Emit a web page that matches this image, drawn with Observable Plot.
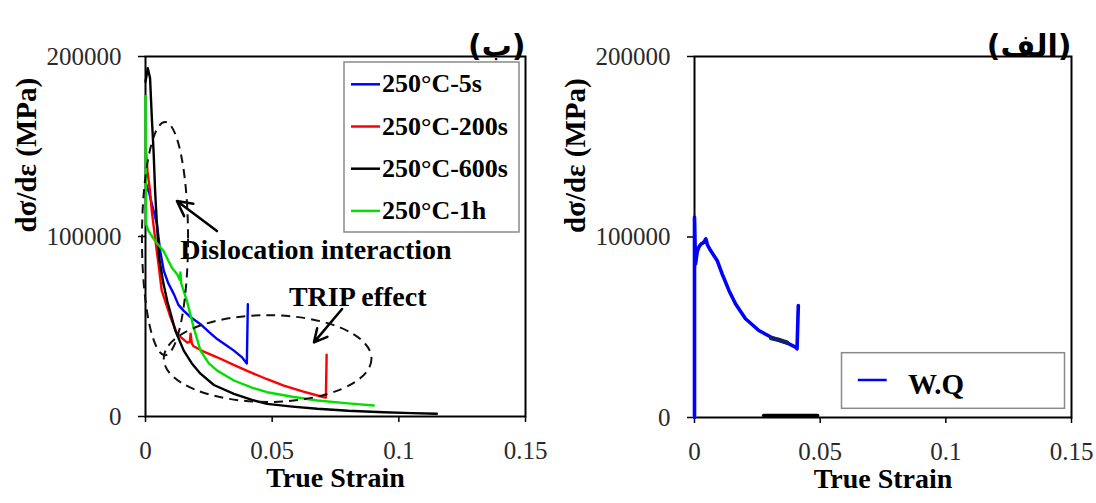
<!DOCTYPE html>
<html><head><meta charset="utf-8">
<script src="https://cdn.jsdelivr.net/npm/d3@7"></script>
<script src="https://cdn.jsdelivr.net/npm/@observablehq/plot@0.6"></script>
<style>
html,body{margin:0;padding:0;background:#fff;}
#wrap{position:relative;width:1096px;height:503px;overflow:hidden;}
#left,#right{position:absolute;top:0;}
#left{left:0;} #right{left:548px;}
</style></head><body>
<div id="wrap"><div id="left"></div><div id="right"></div></div>
<script>
// ---- tick labels / categories ----
const xTicks = [0, 0.05, 0.1, 0.15];
const yTicks = [0, 100000, 200000];
const xTitle = "True Strain";
const yTitle = "dσ/dε (MPa)";
const panelLeftLabel = "(ب)";
const panelRightLabel = "(الف)";
const seriesNames = ["250°C-5s", "250°C-200s", "250°C-600s", "250°C-1h"];
const seriesColors = ["#0000ff", "#ff0000", "#000000", "#00e000"];

// ---- series values (true strain, dσ/dε in MPa) ----
const strain5s = [0.0003, 0.0015, 0.0025, 0.0045, 0.0058, 0.0072, 0.0090, 0.0112, 0.0130, 0.0151, 0.0180, 0.0217, 0.0250, 0.0283, 0.0320, 0.0349, 0.0380, 0.0400, 0.0404];
const rate5s   = [129000, 124000, 118000, 107000, 92000, 81000, 74000, 68000, 62000, 58700, 55000, 51300, 47000, 43000, 39500, 36600, 33000, 29500, 62400];

const strain200s = [0.0002, 0.0008, 0.0018, 0.0025, 0.0038, 0.0051, 0.0064, 0.0078, 0.0099, 0.0125, 0.0165, 0.0175, 0.0178, 0.0183, 0.0190, 0.0230, 0.0283, 0.0350, 0.0415, 0.0480, 0.0546, 0.0620, 0.0704, 0.0712, 0.0715];
const rate200s   = [147000, 136000, 125000, 114000, 99000, 85000, 70000, 64000, 55000, 45800, 41000, 41500, 46000, 40500, 39000, 36000, 32900, 28500, 24500, 20700, 17200, 14000, 10700, 10500, 34300];

const strain600s = [0, 0.0009, 0.0018, 0.0025, 0.0032, 0.0038, 0.0045, 0.0054, 0.0071, 0.0086, 0.0118, 0.0151, 0.0183, 0.0217, 0.0270, 0.0349, 0.0420, 0.0480, 0.0580, 0.0678, 0.0800, 0.0940, 0.1050, 0.1150];
const rate600s   = [186000, 193500, 188000, 166000, 147000, 125000, 107000, 88000, 73700, 64000, 47600, 36600, 29500, 23800, 17500, 12600, 9200, 7000, 5500, 4300, 3200, 2400, 1900, 1500];

const strain1h = [0, 0.0001, 0.0002, 0.0012, 0.0038, 0.0071, 0.0104, 0.0125, 0.0135, 0.0138, 0.0141, 0.0164, 0.0190, 0.0217, 0.0250, 0.0283, 0.0349, 0.0420, 0.0480, 0.0580, 0.0678, 0.0800, 0.0901];
const rate1h   = [178000, 140000, 107000, 103000, 97500, 92000, 82700, 79000, 76000, 80000, 74000, 64000, 49500, 36600, 29500, 25500, 20000, 16000, 13500, 11000, 8900, 7300, 6100];

const wqName = "W.Q";
const strainWQ = [0, 0, 0.0004, 0.0011, 0.0017, 0.0025, 0.0037, 0.0045, 0.0052, 0.0064, 0.0090, 0.0110, 0.0137, 0.0163, 0.0203, 0.0256, 0.0309, 0.0362, 0.0402, 0.0408, 0.0413];
const rateWQ   = [0, 111000, 85000, 92000, 94300, 96000, 97000, 99000, 95500, 92500, 87000, 79600, 70400, 63000, 54700, 48200, 44200, 41700, 39000, 38000, 62000];
const strainWQdark = [0.0305, 0.0335, 0.0368];
const rateWQdark   = [44000, 43000, 41500];
const strainBase = [0.0275, 0.0490];
const rateBase   = [0, 0];

// ---- annotations (data units) ----
const noteTexts = ["Dislocation interaction", "TRIP effect"];
const noteX = [0.0137, 0.0566];
const noteY = [92400, 66500];
const arrowFromX = [0.0282, 0.0776];
const arrowFromY = [103000, 59700];
const arrowToX = [0.0124, 0.0665];
const arrowToY = [119700, 41200];
const ellipseCx = [0.0079, 0.0484];
const ellipseCy = [98600, 31900];
const ellipseRx = [0.0091, 0.041];
const ellipseRy = [64800, 24100];

// ---- tables ----
const strains = [strain5s, strain200s, strain600s, strain1h];
const rates = [rate5s, rate200s, rate600s, rate1h];
const tableLeft = seriesNames.flatMap((name, i) => strains[i].map((x, j) => ({name, x, y: rates[i][j]})));
const tableWQ = strainWQ.map((x, j) => ({x, y: rateWQ[j]}));
const tableWQdark = strainWQdark.map((x, j) => ({x, y: rateWQdark[j]}));
const tableBase = strainBase.map((x, j) => ({x, y: rateBase[j]}));
const notes = noteTexts.map((t, i) => ({t, x: noteX[i], y: noteY[i]}));
const arrows = arrowFromX.map((x1, i) => ({x1, y1: arrowFromY[i], x2: arrowToX[i], y2: arrowToY[i]}));

const serif = "'Liberation Serif','Times New Roman',serif";

function axesMarks(panelLabel) {
  return [
    Plot.frame({stroke: "black", strokeWidth: 2}),
    Plot.axisX({ticks: xTicks, tickFormat: d => String(d), tickSize: 6, tickPadding: 19, fontSize: 25, label: null, stroke: "black", fill: "#2a2a2a", strokeWidth: 1.5}),
    Plot.axisY({ticks: yTicks, tickFormat: d => String(d), tickSize: 7, tickPadding: 17, fontSize: 25, label: null, stroke: "black", fill: "#2a2a2a", strokeWidth: 1.5}),
    Plot.text([xTitle], {text: d => d, frameAnchor: "bottom", dy: 70, fontSize: 28, fontWeight: "bold"}),
    Plot.text([yTitle], {text: d => d, frameAnchor: "left", rotate: -90, dx: -119, dy: -4, fontSize: 29, fontWeight: "bold"}),
    Plot.text([panelLabel], {text: d => d, frameAnchor: "top-right", textAnchor: "end", dy: -22, fontSize: 30, fontWeight: "bold"})
  ];
}

// fonts on every text element (Arabic panel label uses DejaVu Sans)
function setFonts(svg) {
  d3.select(svg).selectAll("text").each(function () {
    const arabic = /[\u0600-\u06FF]/.test(this.textContent);
    this.style.fontFamily = arabic ? "'DejaVu Sans'" : serif;
  });
}

// ---------- left panel (ب) ----------
const left = Plot.plot({
  width: 548, height: 503,
  marginLeft: 145, marginRight: 23, marginTop: 56, marginBottom: 87,
  style: {fontFamily: serif, background: "transparent", color: "black"},
  x: {domain: [0, 0.15]},
  y: {domain: [0, 200000]},
  color: {domain: seriesNames, range: seriesColors},
  marks: [
    ...axesMarks(panelLeftLabel),
    Plot.line(tableLeft, {x: "x", y: "y", z: "name", stroke: "name", strokeWidth: 2.4}),
    Plot.arrow(arrows, {x1: "x1", y1: "y1", x2: "x2", y2: "y2", stroke: "black", strokeWidth: 2.5, headLength: 14, headAngle: 55}),
    Plot.text(notes, {x: "x", y: "y", text: "t", textAnchor: "start", fontSize: 28, fontWeight: "bold"})
  ]
});
document.getElementById("left").appendChild(left);

// dashed ellipses through the plot scales, and legend box
{
  const sx = left.scale("x"), sy = left.scale("y");
  const g = d3.select(left).append("g");
  ellipseCx.forEach((cx, i) => {
    const px = sx.apply(cx), py = sy.apply(ellipseCy[i]);
    g.append("ellipse")
      .attr("cx", px).attr("cy", py)
      .attr("rx", sx.apply(cx + ellipseRx[i]) - px)
      .attr("ry", py - sy.apply(ellipseCy[i] + ellipseRy[i]))
      .attr("fill", "none").attr("stroke", "#111").attr("stroke-width", 2)
      .attr("stroke-dasharray", "9,6");
  });
  const lg = d3.select(left).append("g")
    .attr("font-weight", "bold").attr("font-size", 26).attr("text-anchor", "start");
  lg.append("rect").attr("x", 344).attr("y", 62).attr("width", 175).attr("height", 170)
    .attr("fill", "white").attr("stroke", "#8a8a8a").attr("stroke-width", 1.5);
  seriesNames.forEach((name, i) => {
    const base = 92.3 + i * 42.2;
    lg.append("line").attr("x1", 351).attr("x2", 380).attr("y1", base - 8).attr("y2", base - 8)
      .attr("stroke", seriesColors[i]).attr("stroke-width", 2.5);
    lg.append("text").attr("x", 382).attr("y", base).attr("fill", "black").text(name);
  });
}
setFonts(left);

// ---------- right panel (الف) ----------
const right = Plot.plot({
  width: 548, height: 503,
  marginLeft: 146, marginRight: 25, marginTop: 56, marginBottom: 86,
  style: {fontFamily: serif, background: "transparent", color: "black"},
  x: {domain: [0, 0.15]},
  y: {domain: [0, 200000]},
  marks: [
    ...axesMarks(panelRightLabel),
    Plot.line(tableBase, {x: "x", y: "y", stroke: "black", strokeWidth: 3.5, dy: -2}),
    Plot.line(tableWQ, {x: "x", y: "y", stroke: "#0000ff", strokeWidth: 3.6}),
    Plot.line(tableWQdark, {x: "x", y: "y", stroke: "#14206a", strokeWidth: 4.5})
  ]
});
document.getElementById("right").appendChild(right);
{
  const lg = d3.select(right).append("g")
    .attr("font-weight", "bold").attr("font-size", 29).attr("text-anchor", "start");
  lg.append("rect").attr("x", 293.5).attr("y", 352.7).attr("width", 223).attr("height", 55.6)
    .attr("fill", "white").attr("stroke", "#8a8a8a").attr("stroke-width", 1.5);
  lg.append("line").attr("x1", 309.8).attr("x2", 338.7).attr("y1", 380).attr("y2", 380)
    .attr("stroke", "#0000ff").attr("stroke-width", 2.5);
  lg.append("text").attr("x", 360).attr("y", 394).attr("fill", "black").text(wqName);
}
setFonts(right);
</script>
</body></html>
